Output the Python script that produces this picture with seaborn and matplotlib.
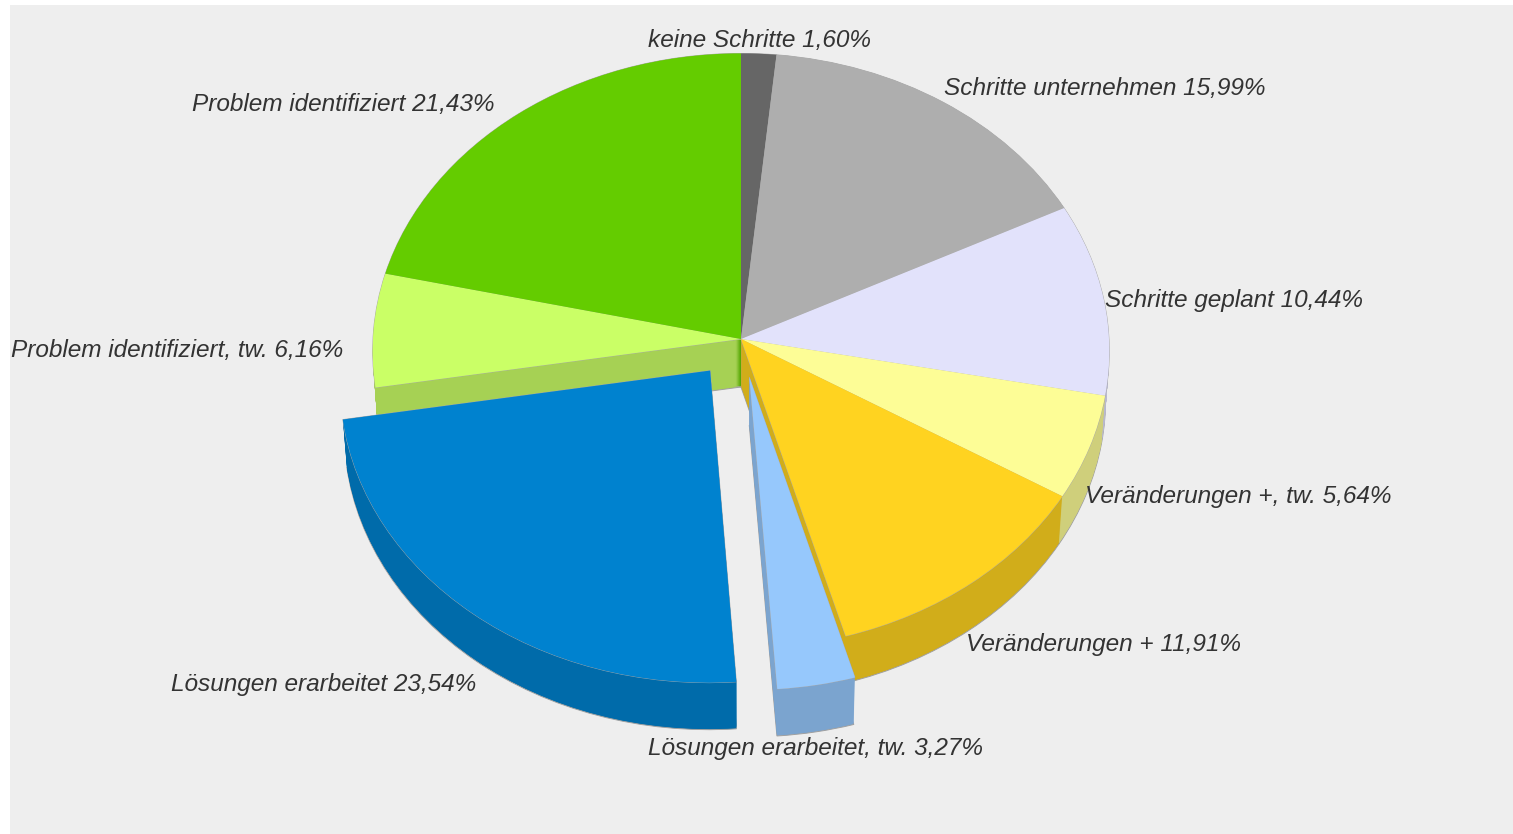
import numpy as np
import matplotlib
matplotlib.use('Agg')
import matplotlib.pyplot as plt
from matplotlib.patches import Rectangle
from matplotlib.transforms import Transform
import seaborn as sns

categories = ['keine Schritte', 'Schritte unternehmen', 'Schritte geplant',
              'Veränderungen +, tw.', 'Veränderungen +',
              'Lösungen erarbeitet, tw.', 'Lösungen erarbeitet',
              'Problem identifiziert, tw.', 'Problem identifiziert']
shares = [1.60, 15.99, 10.44, 5.64, 11.91, 3.27, 23.54, 6.16, 21.43]
pulled_out = [0, 0, 0, 0, 0, 0.13, 0.135, 0, 0]
colors = ['#666666', '#aeaeae', '#e2e2fb', '#fdfd96', '#ffd320',
          '#96c8fc', '#0082cf', '#caff66', '#64cc00']
label_xy = [(759, 40), (1105, 88), (1234, 300), (1238, 496), (1104, 645),
            (816, 749), (324, 684), (177, 350), (343, 104)]

# pie geometry in image pixels
CX, CY = 741, 339
RX, RY = 368, 297
TILT = 0.04
DEPTH = 48


class PieView(Transform):
    # flat unit pie -> tilted pie in pixels, drop moves it down for the side walls
    input_dims = 2
    output_dims = 2

    def __init__(self, drop=0):
        super().__init__()
        self.drop = drop

    def transform_non_affine(self, values):
        values = np.asarray(values)
        k = 1 / (1 + TILT * values[:, 1])
        # lower layers are further away, so a little smaller
        sx = 1 - 0.01 * self.drop / DEPTH
        sy = 1 - 0.003 * self.drop / DEPTH
        return np.column_stack([CX + sx * RX * values[:, 0] * k,
                                CY - sy * RY * values[:, 1] * k + self.drop])


def draw_layer(ax, face_colors, drop, **wedge_kw):
    wedges, _ = ax.pie(shares, colors=face_colors, explode=pulled_out,
                       startangle=90, counterclock=False, wedgeprops=wedge_kw)
    for w in wedges:
        w.set_transform(PieView(drop) + ax.transData)


sns.set_theme(style='white')
plt.rcParams['font.family'] = ['Liberation Sans', 'DejaVu Sans']

fig = plt.figure(figsize=(15.13, 8.34), dpi=100, facecolor='white')
ax = fig.add_axes([0, 0, 1, 1])

top_colors = sns.color_palette(colors)
side_colors = [tuple(0.82 * np.array(c)) for c in top_colors]

# thin grey outline first, so only the silhouette of it stays visible
draw_layer(ax, side_colors, DEPTH, edgecolor='#a0a0a0', linewidth=0.7)
for drop in range(DEPTH - 1, 0, -1):
    draw_layer(ax, side_colors, drop, edgecolor='none', linewidth=0)
draw_layer(ax, top_colors, 0, edgecolor='#a8a8a8', linewidth=0.6)
draw_layer(ax, top_colors, 0, edgecolor='none', linewidth=0)

ax.set_aspect('auto')
ax.set_xlim(0, 1513)
ax.set_ylim(834, 0)
ax.axis('off')
ax.add_patch(Rectangle((10, 5), 1503, 829, facecolor='#eeeeee', edgecolor='none', zorder=0))

for name, val, (x, y) in zip(categories, shares, label_xy):
    txt = f'{name} {val:.2f}%'.replace('.', ',').replace('tw,', 'tw.')
    ax.text(x, y, txt, ha='center', va='center', fontsize=17.6, style='italic', color='#333333')

fig.savefig('out.png', dpi=100)
